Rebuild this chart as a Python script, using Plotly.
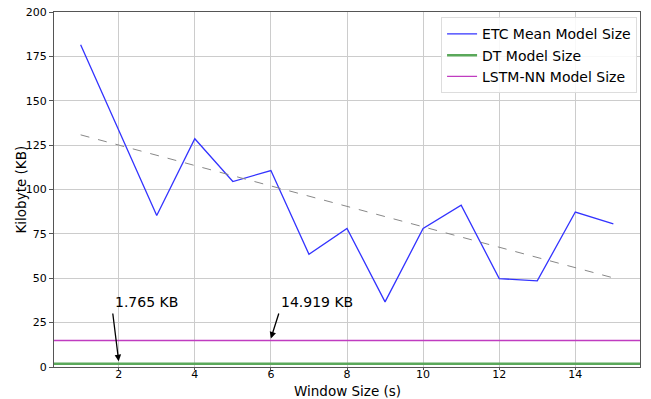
import numpy as np
import plotly.graph_objects as go

# Window sizes (s) and mean ETC model size (KB)
window_size = list(range(1, 16))
etc_mean_size = [181.5, 133.0, 85.4, 128.6, 104.5, 110.7, 63.5, 78.1,
                 36.7, 78.0, 91.2, 49.8, 48.5, 87.3, 80.7]
dt_size = 1.765
lstm_size = 14.919

x_ticks = [2, 4, 6, 8, 10, 12, 14]
y_ticks = [0, 25, 50, 75, 100, 125, 150, 175, 200]

# Linear trend of the ETC sizes
coef = np.polyfit(window_size, etc_mean_size, 1)
trend = np.polyval(coef, window_size)

x_range = [0.3, 15.7]
font = "DejaVu Sans"

fig = go.Figure()
fig.add_trace(go.Scatter(x=window_size, y=etc_mean_size, mode="lines",
                         line=dict(color="#3333ff", width=1.3),
                         name="ETC Mean Model Size"))
fig.add_trace(go.Scatter(x=x_range, y=[dt_size, dt_size], mode="lines",
                         line=dict(color="#5aa85a", width=2.5),
                         name="DT Model Size"))
fig.add_trace(go.Scatter(x=x_range, y=[lstm_size, lstm_size], mode="lines",
                         line=dict(color="#c03cc0", width=1.3),
                         name="LSTM-NN Model Size"))
fig.add_trace(go.Scatter(x=window_size, y=trend, mode="lines",
                         line=dict(color="#888888", width=1, dash="dash"),
                         showlegend=False, hoverinfo="skip"))

# Value callouts
callouts = [
    dict(head=(2, dt_size + 1.5), tail=(1.84, 31), text_pos=(1.84, 36.5),
         text=f"{dt_size} KB"),
    dict(head=(6, lstm_size + 1.2), tail=(6.22, 31), text_pos=(6.22, 36.5),
         text=f"{lstm_size} KB"),
]
for c in callouts:
    fig.add_annotation(x=c["head"][0], y=c["head"][1], ax=c["tail"][0], ay=c["tail"][1],
                       xref="x", yref="y", axref="x", ayref="y", text="",
                       showarrow=True, arrowhead=2, arrowsize=1, arrowwidth=1.3,
                       arrowcolor="black")
    fig.add_annotation(x=c["text_pos"][0], y=c["text_pos"][1], xref="x", yref="y",
                       text=c["text"], showarrow=False, xanchor="left", yanchor="middle",
                       font=dict(family=font, size=14, color="black"))

# Axis titles
title_font = dict(family=font, size=13.5, color="black")
fig.add_annotation(x=0.5, y=0, xref="paper", yref="paper", yshift=-23.5,
                   xanchor="center", yanchor="middle", showarrow=False, borderpad=0,
                   text="Window Size (s)", font=title_font)
fig.add_annotation(x=0, y=0.5, xref="paper", yref="paper", xshift=-34,
                   xanchor="center", yanchor="middle", showarrow=False, textangle=-90,
                   text="Kilobyte (KB)", font=title_font)

axis_common = dict(showline=True, linecolor="#555555", linewidth=1, mirror=True,
                   showgrid=True, gridcolor="#cccccc", gridwidth=1,
                   ticks="outside", tickcolor="#555555",
                   tickfont=dict(family=font, size=11, color="black"),
                   zeroline=False, automargin=False)

fig.update_layout(
    width=651, height=399,
    margin=dict(l=54, r=11, t=12, b=32),
    paper_bgcolor="white", plot_bgcolor="white",
    showlegend=True,
    legend=dict(x=0.995, y=0.985, xanchor="right", yanchor="top",
                bgcolor="rgba(255,255,255,0.85)", bordercolor="#dddddd", borderwidth=1,
                font=dict(family=font, size=14, color="black"),
                tracegroupgap=0, itemwidth=30),
    xaxis=dict(range=x_range, tickvals=x_ticks, ticklen=2, ticklabelstandoff=-5,
               **axis_common),
    yaxis=dict(range=[0, 200], tickvals=y_ticks, ticklen=4, **axis_common),
)

fig.write_html("out.html")
